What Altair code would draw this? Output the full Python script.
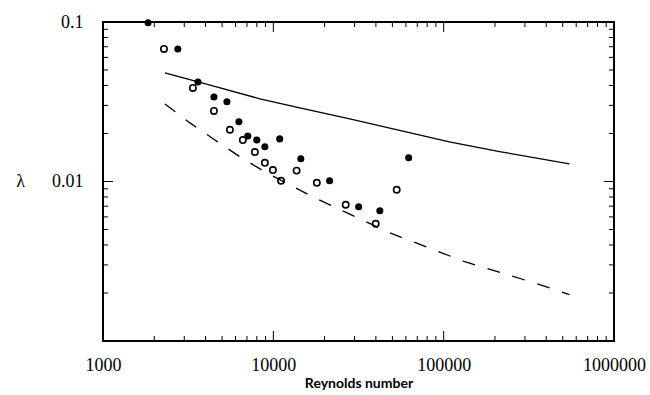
import altair as alt
import pandas as pd

# ---- data ----
filled_re = [1840, 2750, 3610, 4480, 5340, 6280, 7080, 8000, 8920, 10900, 14500, 21400, 31700, 42200, 62300]
filled_lam = [0.099, 0.0678, 0.0421, 0.0339, 0.0316, 0.0237, 0.0193, 0.0182, 0.0165, 0.0185, 0.0139, 0.0101, 0.00695, 0.00656, 0.0141]

open_re = [2280, 3370, 4480, 5560, 6620, 7790, 8920, 9940, 11100, 13700, 18000, 26600, 39900, 53000]
open_lam = [0.0678, 0.0386, 0.0277, 0.0211, 0.0182, 0.0153, 0.0131, 0.0118, 0.0101, 0.0117, 0.00982, 0.00715, 0.00543, 0.00887]

solid_re = [2310, 4000, 8340, 14300, 28100, 108000, 213000, 548000]
solid_lam = [0.048, 0.0409, 0.033, 0.0289, 0.0247, 0.0177, 0.0154, 0.0129]

dashed_re = [2310, 3240, 4540, 6360, 8920, 17500, 48200, 133000, 366000, 548000]
dashed_lam = [0.0306, 0.0233, 0.0182, 0.0143, 0.0115, 0.0079, 0.00477, 0.00314, 0.00226, 0.00195]

x_domain = [1000, 1000000]
y_domain = [0.001, 0.1]
x_major = [1000, 10000, 100000, 1000000]
x_minor = [2000, 3000, 4000, 5000, 6000, 7000, 8000, 9000,
           20000, 30000, 40000, 50000, 60000, 70000, 80000, 90000,
           200000, 300000, 400000, 500000, 600000, 700000, 800000, 900000]
y_major = [0.001, 0.01, 0.1]
y_labelled = [0.01, 0.1]
y_minor = [0.002, 0.003, 0.004, 0.005, 0.006, 0.007, 0.008, 0.009,
           0.02, 0.03, 0.04, 0.05, 0.06, 0.07, 0.08, 0.09]

# plot frame corners (domain limits), in drawing order
frame_re = [1000, 1000000, 1000000, 1000, 1000]
frame_lam = [0.001, 0.001, 0.1, 0.1, 0.001]

W, H = 511, 319

filled_df = pd.DataFrame({"Re": filled_re, "lam": filled_lam})
open_df = pd.DataFrame({"Re": open_re, "lam": open_lam})
solid_df = pd.DataFrame({"Re": solid_re, "lam": solid_lam})
dashed_df = pd.DataFrame({"Re": dashed_re, "lam": dashed_lam})
frame_df = pd.DataFrame({"Re": frame_re, "lam": frame_lam, "i": list(range(len(frame_re)))})
xt_df = pd.DataFrame({"Re": x_major + x_minor,
                      "kind": ["major"] * len(x_major) + ["minor"] * len(x_minor)})
yt_df = pd.DataFrame({"lam": y_major + y_minor,
                      "kind": ["major"] * len(y_major) + ["minor"] * len(y_minor)})

xs = alt.Scale(type="log", domain=x_domain, nice=False)
ys = alt.Scale(type="log", domain=y_domain, nice=False)

x_axis = alt.Axis(values=x_major, ticks=False, domain=False, grid=False,
                  format="d", labelFlush=False, labelOverlap=False, labelPadding=15,
                  labelFont="Liberation Serif", labelFontSize=18,
                  title="Reynolds number", titleFont="Lato", titleFontWeight="bold",
                  titleFontSize=14, titlePadding=2)
y_axis = alt.Axis(values=y_labelled, ticks=False, domain=False, grid=False,
                  labelExpr="datum.value > 0.05 ? '0.1' : '0.01'",
                  labelFont="Liberation Serif", labelFontSize=18,
                  labelFlush=False, labelOverlap=False, labelPadding=20,
                  title="λ", titleAngle=0, titleFont="Liberation Serif",
                  titleFontWeight="normal", titleFontSize=18, titleX=-83, titleY=159,
                  titleAlign="center", titleBaseline="middle")

X = alt.X("Re:Q", scale=xs, axis=x_axis)
Y = alt.Y("lam:Q", scale=ys, axis=y_axis)

# tick length: custom symbol paths are scaled by sqrt(size)/2, so a 2-unit path is sqrt(size) px long
tick_size = alt.condition("datum.kind == 'major'", alt.value(100), alt.value(25))

def ticks(df, shape, **enc):
    return alt.Chart(df).mark_point(shape=shape, filled=False, color="black",
                                    strokeWidth=1, opacity=1).encode(size=tick_size, **enc)

t_bottom = ticks(xt_df, "M0,0L0,-2", x=X, y=alt.value(H))
t_top = ticks(xt_df, "M0,0L0,2", x=X, y=alt.value(0))
t_left = ticks(yt_df, "M0,0L2,0", y=Y, x=alt.value(0))
t_right = ticks(yt_df, "M0,0L-2,0", y=Y, x=alt.value(W))

frame = alt.Chart(frame_df).mark_line(color="black", strokeWidth=2).encode(
    x=X, y=Y, order="i:Q")

solid = alt.Chart(solid_df).mark_line(color="black", strokeWidth=1.3).encode(x=X, y=Y)
dashed = alt.Chart(dashed_df).mark_line(color="black", strokeWidth=1.3, strokeDash=[13, 13]).encode(x=X, y=Y)
opened = alt.Chart(open_df).mark_point(shape="circle", filled=False, size=40, strokeWidth=1.6,
                                       color="black", opacity=1).encode(x=X, y=Y)
filled = alt.Chart(filled_df).mark_point(shape="circle", filled=True, size=50,
                                         color="black", opacity=1).encode(x=X, y=Y)

chart = alt.layer(
    frame, t_bottom, t_top, t_left, t_right, solid, dashed, opened, filled
).properties(
    width=W, height=H,
    padding={"left": 103, "top": 22, "right": 36, "bottom": 54},
    autosize=alt.AutoSizeParams(type="none"),
).configure_view(
    stroke="black", strokeWidth=2
)

chart.save("out.html", embed_options={"renderer": "svg", "actions": False})
